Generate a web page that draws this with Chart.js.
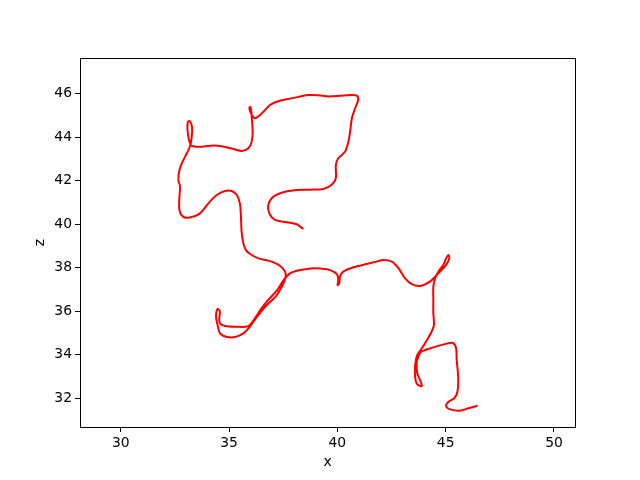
<!DOCTYPE html>
<html>
<head>
<meta charset="utf-8">
<script src="https://cdn.jsdelivr.net/npm/chart.js@4/dist/chart.umd.min.js"></script>
<style>
  body { margin: 0; background: #fff; }
  canvas { display: block; }
</style>
</head>
<body>
<canvas id="pathChart" width="640" height="480"></canvas>
<script>
// path, in drawing order
const xValues = [
  38.43, 38.12, 37.66, 37.12, 36.86, 36.81, 37.04, 37.51, 38.12, 38.74,
  39.35, 39.74, 39.93, 39.93, 40.04, 40.35, 40.51, 40.59, 40.67, 40.82,
  40.96, 40.90, 40.59, 40.12, 39.59, 39.12, 38.66, 38.28, 37.73, 37.20,
  36.89, 36.66, 36.43, 36.20, 36.05, 35.94, 35.97, 36.02, 36.05, 36.09,
  36.05, 35.89, 35.58, 35.20, 34.58, 34.13, 33.66, 33.27, 33.17, 33.08,
  33.10, 33.19, 33.29, 33.27, 33.19, 33.05, 32.82, 32.71, 32.66, 32.74,
  32.71, 32.71, 32.89, 33.19, 33.66, 34.05, 34.43, 34.81, 35.13, 35.36,
  35.50, 35.55, 35.58, 35.66, 35.78, 35.97, 36.36, 36.97, 37.36, 37.59,
  37.61, 37.50, 37.17, 36.70, 36.25, 35.97, 35.66, 35.28, 34.89, 34.58,
  34.47, 34.40, 34.47, 34.58, 34.55, 34.58, 34.81, 35.28, 35.89, 36.20,
  36.48, 36.80, 37.22, 37.52, 37.81, 38.12, 38.51, 38.89, 39.51, 39.82,
  40.00, 40.04, 40.01, 40.09, 40.12, 40.27, 40.74, 41.35, 41.82, 42.12,
  42.51, 42.82, 43.13, 43.43, 43.82, 44.27, 44.66, 45.02, 45.17, 45.13,
  45.02, 44.89, 44.66, 44.51, 44.43, 44.43, 44.43, 44.46, 44.35, 44.13,
  43.90, 43.69, 43.59, 43.59, 43.68, 43.90, 43.82, 43.69, 43.66, 43.74,
  43.86, 44.43, 44.97, 45.30, 45.47, 45.51, 45.58, 45.54, 45.39, 45.13,
  45.02, 45.21, 45.66, 46.05, 46.47
];
const zValues = [
  39.78, 40.00, 40.09, 40.20, 40.50, 40.88, 41.26, 41.47, 41.57, 41.59,
  41.62, 41.81, 42.11, 42.72, 43.03, 43.33, 43.80, 44.26, 44.87, 45.33,
  45.71, 45.91, 45.94, 45.90, 45.87, 45.93, 45.94, 45.87, 45.76, 45.63,
  45.48, 45.25, 45.02, 44.87, 45.02, 45.30, 45.40, 45.25, 44.87, 44.26,
  43.80, 43.49, 43.37, 43.46, 43.60, 43.61, 43.56, 43.60, 43.80, 44.34,
  44.71, 44.74, 44.49, 43.95, 43.56, 43.26, 42.80, 42.49, 42.04, 41.73,
  41.26, 40.65, 40.34, 40.31, 40.50, 40.96, 41.34, 41.53, 41.53, 41.34,
  40.96, 40.34, 39.66, 39.12, 38.81, 38.63, 38.43, 38.28, 38.08, 37.82,
  37.57, 37.25, 36.70, 36.24, 35.69, 35.30, 34.98, 34.82, 34.82, 34.98,
  35.37, 35.75, 36.11, 35.98, 35.68, 35.44, 35.32, 35.29, 35.32, 35.69,
  36.11, 36.51, 36.97, 37.43, 37.74, 37.86, 37.93, 37.98, 37.93, 37.82,
  37.67, 37.43, 37.20, 37.28, 37.59, 37.82, 38.02, 38.17, 38.28, 38.35,
  38.28, 37.98, 37.51, 37.25, 37.16, 37.36, 37.74, 38.13, 38.43, 38.58,
  38.43, 38.13, 37.82, 37.51, 37.13, 36.51, 35.91, 35.37, 35.06, 34.67,
  34.30, 33.99, 33.53, 32.97, 32.65, 32.56, 32.83, 33.14, 33.61, 33.91,
  34.13, 34.34, 34.49, 34.55, 34.35, 33.76, 32.93, 32.29, 32.00, 31.84,
  31.64, 31.49, 31.43, 31.54, 31.66
];
const xTicks = [30, 35, 40, 45, 50];
const zTicks = [32, 34, 36, 38, 40, 42, 44, 46];

const points = xValues.map((x, i) => ({ x: x, y: zValues[i] }));

// black box round the plot area, like the other two spines
const frame = {
  id: 'frame',
  afterDraw(chart) {
    const a = chart.chartArea;
    const ctx = chart.ctx;
    ctx.save();
    ctx.strokeStyle = '#000';
    ctx.lineWidth = 1;
    ctx.strokeRect(Math.round(a.left) + 0.5, Math.round(a.top) + 0.5,
      Math.round(a.right - a.left), Math.round(a.bottom - a.top));
    ctx.restore();
  }
};

const font = { family: 'DejaVu Sans', size: 13.9 };

new Chart(document.getElementById('pathChart'), {
  type: 'scatter',
  data: {
    datasets: [{
      data: points,
      showLine: true,
      borderColor: '#ff0000',
      borderWidth: 2,
      pointRadius: 0,
      tension: 0.3,
      fill: false
    }]
  },
  options: {
    responsive: false,
    animation: false,
    layout: { padding: { top: 58, right: 65, left: 0, bottom: 0 } },
    plugins: { legend: { display: false }, tooltip: { enabled: false } },
    scales: {
      x: {
        type: 'linear',
        min: 28.12,
        max: 50.97,
        afterBuildTicks: scale => { scale.ticks = xTicks.map(v => ({ value: v })); },
        afterFit: scale => { scale.height = 53; },
        grid: { drawOnChartArea: false, drawTicks: true, tickLength: 5, color: '#000' },
        border: { color: '#000' },
        ticks: { color: '#000', font: font, padding: 3, maxRotation: 0 },
        title: { display: true, text: 'x', color: '#000', font: font, padding: { top: 2, bottom: 9 } }
      },
      y: {
        type: 'linear',
        min: 30.68,
        max: 47.64,
        afterBuildTicks: scale => { scale.ticks = zTicks.map(v => ({ value: v })); },
        afterFit: scale => { scale.width = 80; },
        grid: { drawOnChartArea: false, drawTicks: true, tickLength: 5, color: '#000' },
        border: { color: '#000' },
        ticks: { color: '#000', font: font, padding: 3 },
        title: { display: true, text: 'z', color: '#000', font: font, padding: { top: 32, bottom: 0 } }
      }
    }
  },
  plugins: [frame]
});
</script>
</body>
</html>
